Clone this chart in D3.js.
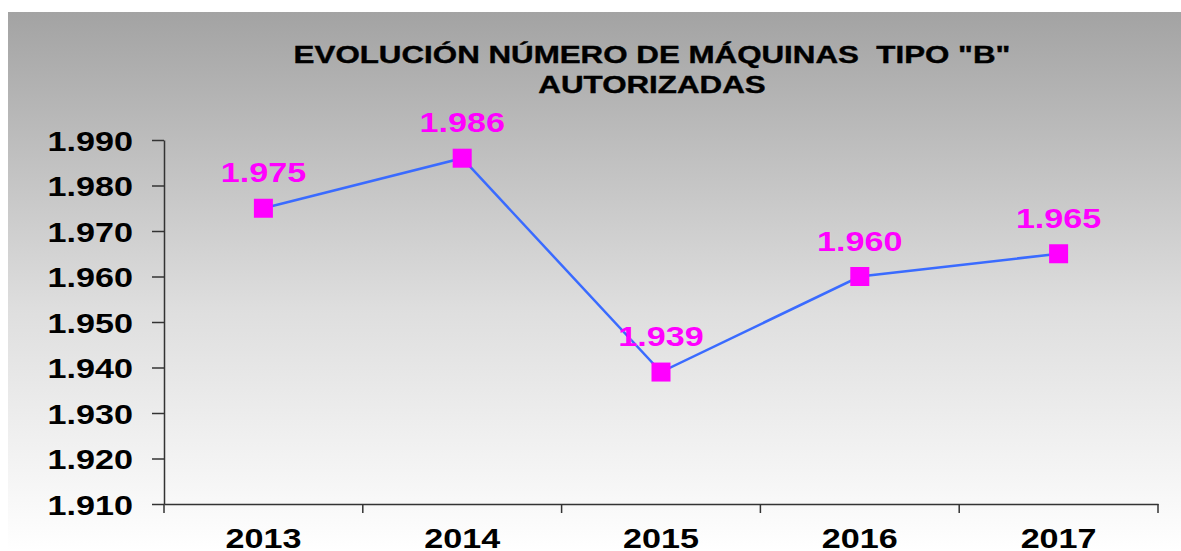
<!DOCTYPE html>
<html>
<head>
<meta charset="utf-8">
<script src="https://cdn.jsdelivr.net/npm/d3@7"></script>
<style>
  body { margin: 0; background: #fff; }
  text { font-family: "Liberation Sans", Arial, sans-serif; font-weight: bold; }
</style>
</head>
<body>
<svg id="chart" width="1181" height="551"></svg>
<script>
// data
const years = ["2013", "2014", "2015", "2016", "2017"];
const machines = [1975, 1986, 1939, 1960, 1965];
const yTicks = [1910, 1920, 1930, 1940, 1950, 1960, 1970, 1980, 1990];
const titleLines = ["EVOLUCIÓN NÚMERO DE MÁQUINAS  TIPO \"B\"", "AUTORIZADAS"];

const svg = d3.select("#chart");
const stretch = 1.22; // the original text is wider than plain Arial

// spanish number format: 1.975
const fmt = d3.formatLocale({ decimal: ",", thousands: ".", grouping: [3], currency: ["", "€"] }).format(",d");

// background gradient
const defs = svg.append("defs");
const grad = defs.append("linearGradient")
    .attr("id", "bg")
    .attr("x1", 0).attr("y1", 0).attr("x2", 0).attr("y2", 1);
grad.append("stop").attr("offset", "0%").attr("stop-color", "#a3a3a3");
grad.append("stop").attr("offset", "55%").attr("stop-color", "#dedede");
grad.append("stop").attr("offset", "100%").attr("stop-color", "#ffffff");

svg.append("rect")
    .attr("x", 8).attr("y", 12)
    .attr("width", 1173).attr("height", 539)
    .attr("fill", "url(#bg)");

// title, stretched so the first line is as wide as in the original
const title = svg.append("g");
const titleTexts = titleLines.map(function (line, i) {
    return title.append("text")
        .attr("text-anchor", "middle")
        .style("font-size", "24px")
        .style("white-space", "pre")
        .style("fill", "#000")
        .attr("data-y", 63 + i * 30)
        .text(line);
});
const titleScale = 717 / titleTexts[0].node().getComputedTextLength();
titleTexts.forEach(function (t) {
    t.attr("transform", `translate(652,${t.attr("data-y")}) scale(${titleScale},1)`)
        .attr("stroke", "#000").attr("stroke-width", 0.4);
});

const plotLeft = 164, plotRight = 1158, plotTop = 140, plotBottom = 504;

const x = d3.scaleBand().domain(years).range([plotLeft, plotRight]);
const y = d3.scaleLinear().domain([1910, 1990]).range([plotBottom, plotTop]);

// y axis
const yAxis = svg.append("g")
    .attr("transform", `translate(${plotLeft},0)`)
    .call(d3.axisLeft(y).tickValues(yTicks).tickFormat(fmt).tickSize(12).tickSizeOuter(0));

// x axis with ticks between categories
const xAxis = svg.append("g")
    .attr("transform", `translate(0,${plotBottom})`)
    .call(d3.axisBottom(x).tickSize(0).tickSizeOuter(0));

xAxis.selectAll(".tick-sep")
    .data(years.concat(["end"]))
    .enter().append("line")
    .attr("x1", function (d, i) { return i < years.length ? x(d) : x.range()[1]; })
    .attr("x2", function (d, i) { return i < years.length ? x(d) : x.range()[1]; })
    .attr("y1", 0).attr("y2", 9)
    .attr("stroke", "#333").attr("stroke-width", 1.5);

[yAxis, xAxis].forEach(function (ax) {
    ax.select(".domain").attr("stroke", "#333").attr("stroke-width", 1.5);
    ax.selectAll(".tick line").attr("stroke", "#333").attr("stroke-width", 1.5);
    ax.selectAll("text")
        .style("font-size", "28px")
        .style("fill", "#000")
        .style("font-family", "'Liberation Sans', Arial, sans-serif");
});

yAxis.selectAll(".tick text")
    .attr("x", -31 / stretch)
    .attr("dy", "0.36em")
    .attr("transform", `scale(${stretch},1)`);

// the tick groups are translated, so scaling around the tick origin keeps them centered
xAxis.selectAll(".tick text")
    .attr("y", 44)
    .attr("dy", 0)
    .attr("transform", `scale(${stretch},1)`);

// line
const line = d3.line()
    .x(function (d, i) { return x(years[i]) + x.bandwidth() / 2; })
    .y(function (d) { return y(d); });

svg.append("path")
    .datum(machines)
    .attr("d", line)
    .attr("fill", "none")
    .attr("stroke", "#3a6bff")
    .attr("stroke-width", 2.5);

// square markers
const size = 19;
svg.append("g").selectAll("rect")
    .data(machines)
    .enter().append("rect")
    .attr("x", function (d, i) { return x(years[i]) + x.bandwidth() / 2 - size / 2; })
    .attr("y", function (d) { return y(d) - size / 2; })
    .attr("width", size).attr("height", size)
    .attr("fill", "#ff00ff");

// value labels
svg.append("g").selectAll("text")
    .data(machines)
    .enter().append("text")
    .attr("transform", function (d, i) {
        return `translate(${x(years[i]) + x.bandwidth() / 2},${y(d) - 26}) scale(${stretch},1)`;
    })
    .attr("text-anchor", "middle")
    .style("font-size", "28px")
    .style("fill", "#ff00ff")
    .text(function (d) { return fmt(d); });
</script>
</body>
</html>
